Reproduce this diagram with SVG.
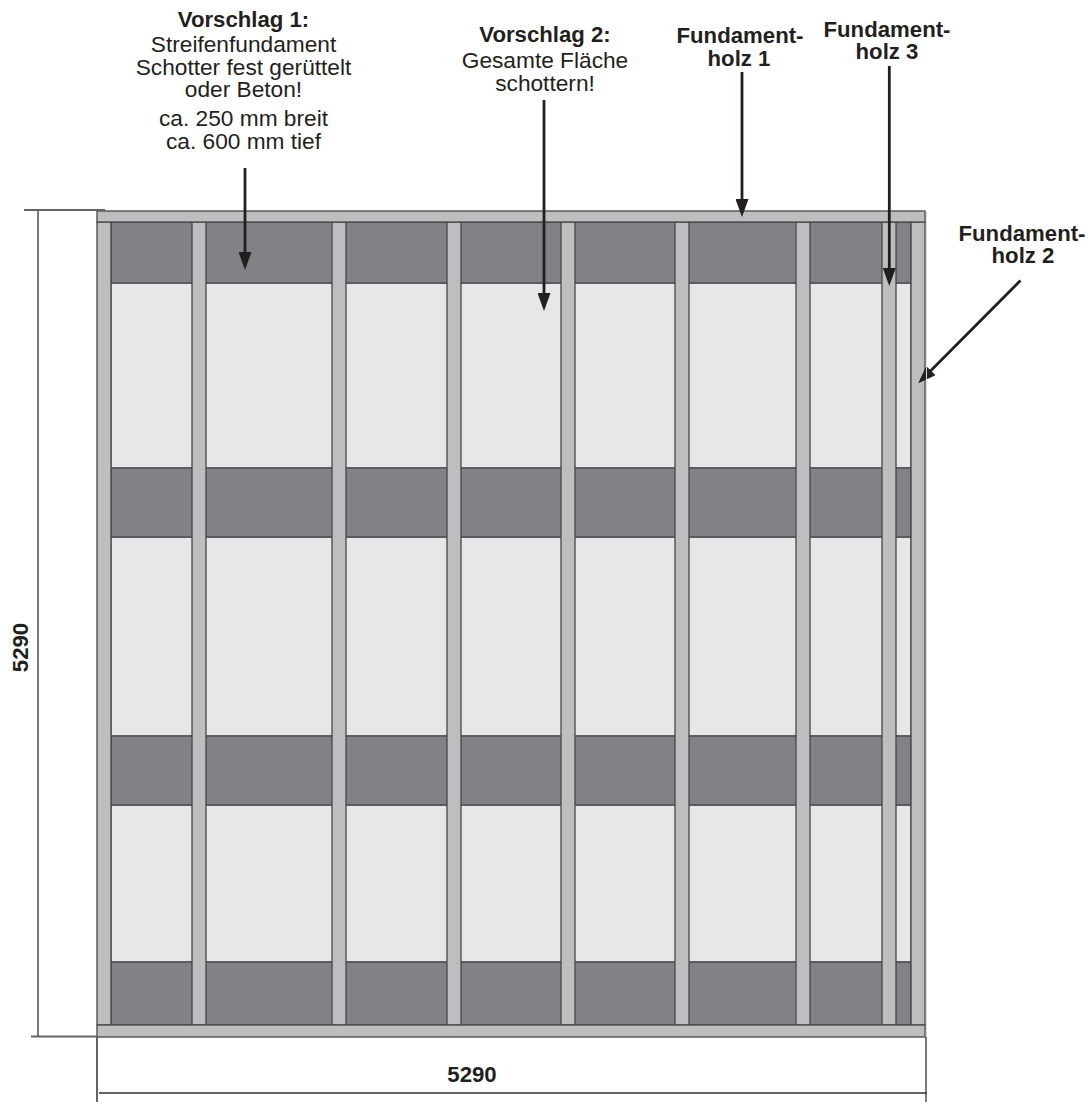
<svg xmlns="http://www.w3.org/2000/svg" width="1091" height="1102" viewBox="0 0 1091 1102">
<style>
text{font-family:"Liberation Sans",Arial,sans-serif;font-size:22.7px;fill:#231f20;text-anchor:middle}
.b{font-weight:bold;font-size:22.2px}
.dark{fill:#808285;stroke:#333335;stroke-width:1}
.light{fill:#e6e7e8;stroke:#333335;stroke-width:1}
.wood{fill:#bcbec0;stroke:#48484a;stroke-width:1.3}
.dim{stroke:#636466;stroke-width:2;fill:none}
.thin{stroke:#333335;stroke-width:1.3;fill:none}
.arr{stroke:#231f20;stroke-width:2.8;fill:none;marker-end:url(#ah)}
</style>
<defs>
<marker id="ah" markerUnits="userSpaceOnUse" markerWidth="18" markerHeight="13" refX="14" refY="6.5" orient="auto" viewBox="0 0 18 13"><path d="M0 0L18 6.5L0 13Z" fill="#231f20"/></marker>
</defs>
<g id="ground">
<rect class="light" x="111" y="283" width="800" height="185"/>
<rect class="light" x="111" y="537" width="800" height="199"/>
<rect class="light" x="111" y="805" width="800" height="157"/>
<rect class="dark" x="111" y="222" width="800" height="61"/>
<rect class="dark" x="111" y="468" width="800" height="69"/>
<rect class="dark" x="111" y="736" width="800" height="69"/>
<rect class="dark" x="111" y="962" width="800" height="63"/>
</g>
<g id="posts">
<rect class="wood" x="97" y="222" width="14" height="803"/>
<rect class="wood" x="192" y="222" width="14" height="803"/>
<rect class="wood" x="332" y="222" width="14" height="803"/>
<rect class="wood" x="447" y="222" width="14" height="803"/>
<rect class="wood" x="561" y="222" width="14" height="803"/>
<rect class="wood" x="675" y="222" width="14" height="803"/>
<rect class="wood" x="796" y="222" width="14" height="803"/>
<rect class="wood" x="882" y="222" width="14" height="803"/>
<rect class="wood" x="911" y="222" width="14" height="803"/>
</g>
<g id="beams">
<rect class="wood" x="97" y="211" width="828" height="11"/>
<rect class="wood" x="97" y="1025" width="828" height="12"/>
</g>
<g id="connectors">
<path class="arr" d="M245 168V266"/>
<path class="arr" d="M544 100V307"/>
<path class="arr" d="M742 72V213"/>
<path class="arr" d="M889.3 66V282"/>
<path class="arr" d="M1020.5 280.5L921 380.5"/>
<path class="dim" d="M24 210H105M31 1036.500H97M97 1037V1102M99 1093H927"/>
<path class="thin" d="M38 211V1036M926 1037V1102"/>
<path d="M926.500 212V1037" stroke="#d8d9da" stroke-width="1" fill="none"/>
</g>
<g id="label-vorschlag1">
<text x="243.500" y="27"><tspan class="b">Vorschlag 1:</tspan><tspan x="243.500" dy="25">Streifenfundament</tspan><tspan x="243.500" dy="23">Schotter fest gerüttelt</tspan><tspan x="243.500" dy="22">oder Beton!</tspan><tspan x="243.500" dy="29">ca. 250 mm breit</tspan><tspan x="243.500" dy="23">ca. 600 mm tief</tspan></text>
</g>
<g id="label-vorschlag2">
<text x="545" y="42"><tspan class="b">Vorschlag 2:</tspan><tspan x="545" dy="26">Gesamte Fläche</tspan><tspan x="545" dy="23">schottern!</tspan></text>
</g>
<g id="label-holz1">
<text class="b" x="740" y="43">Fundament-<tspan x="739" dy="23">holz 1</tspan></text>
</g>
<g id="label-holz3">
<text class="b" x="887" y="37">Fundament-<tspan x="887" dy="22">holz 3</tspan></text>
</g>
<g id="label-holz2">
<text class="b" x="1022" y="241">Fundament-<tspan x="1023" dy="22">holz 2</tspan></text>
</g>
<g id="dim-labels">
<text class="b" x="472" y="1082">5290</text>
<text class="b" transform="translate(28 647.500) rotate(-90)">5290</text>
</g>
</svg>
